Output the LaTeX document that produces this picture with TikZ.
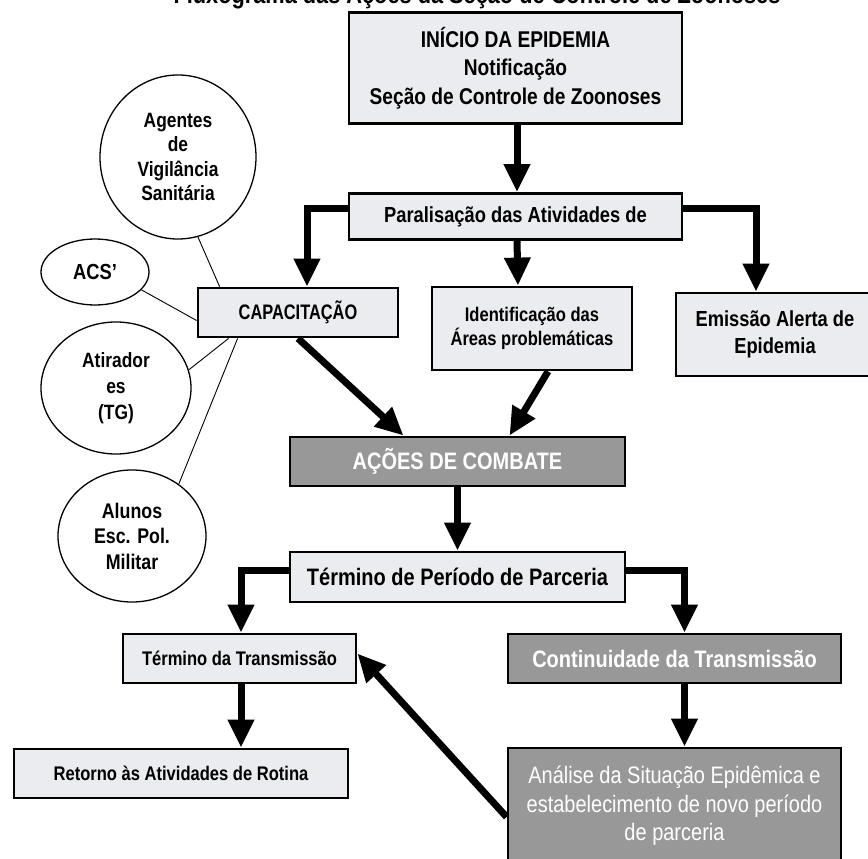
\documentclass[tikz,border=0pt]{standalone}
\usepackage{fontspec}
\setmainfont{Liberation Sans}[FakeStretch=0.84]
\newfontfamily\capfont{Liberation Sans}[FakeStretch=0.78]
\usetikzlibrary{arrows.meta,shapes.geometric,calc}
\definecolor{boxlight}{RGB}{235,236,239}
\definecolor{boxdark}{RGB}{152,152,152}
\newcommand{\fsz}[2]{\fontsize{#1}{#2}\selectfont}
\begin{document}
\begin{tikzpicture}[x=1pt,y=-1pt,
  lbox/.style={draw=black, line width=2.8pt, fill=boxlight, align=center, inner sep=0pt},
  dbox/.style={lbox, fill=boxdark, text=white},
  circ/.style={draw=black, line width=1.3pt, fill=white, ellipse, inner sep=0pt, align=center, font=\bfseries\fsz{20.7}{24.5}},
  arr/.style={line width=7pt, line join=miter, -{Triangle[length=28pt,width=25pt]}},
  thinl/.style={line width=0.9pt}]
\useasboundingbox (0,0) rectangle (868,859);
\clip (0,0) rectangle (868,859);

\node[anchor=base, font=\bfseries\fsz{25.9}{30}] (title) at (477,4) {Fluxograma das Ações da Seção de Controle de Zoonoses};

% boxes
\node[lbox, minimum width=333pt, minimum height=111pt, font=\bfseries\fsz{22.8}{28.5}] (top) at (515.5,68) {INÍCIO DA EPIDEMIA\\Notificação\\Seção de Controle de Zoonoses};
\node[lbox, minimum width=333pt, minimum height=46pt, font=\bfseries\fsz{21.8}{26}] (para) at (515.5,216.5) {Paralisação das Atividades de};
\node[lbox, minimum width=200pt, minimum height=49pt, font=\capfont\bfseries\fsz{21}{24}] (cap) at (298,312.5) {CAPACITAÇÃO};
\node[lbox, minimum width=200pt, minimum height=83pt, font=\bfseries\fsz{19.7}{24}] (ident) at (532,328.5) {Identificação das\\Áreas problemáticas};
\node[lbox, minimum width=198pt, minimum height=83pt, font=\bfseries\fsz{21.8}{27}] (emis) at (775,334.5) {Emissão Alerta de\\Epidemia};
\node[dbox, minimum width=335pt, minimum height=49pt, font=\bfseries\fsz{23.8}{28}] (acoes) at (457.5,461.5) {AÇÕES DE COMBATE};
\node[lbox, minimum width=335pt, minimum height=50pt, font=\bfseries\fsz{23.8}{28}] (term) at (457.5,577) {Término de Período de Parceria};
\node[lbox, minimum width=233pt, minimum height=49pt, font=\bfseries\fsz{19.7}{24}] (ttrans) at (239.5,658.5) {Término da Transmissão};
\node[dbox, minimum width=333pt, minimum height=49pt, font=\bfseries\fsz{23.8}{28}] (cont) at (674.5,658.5) {Continuidade da Transmissão};
\node[lbox, minimum width=334pt, minimum height=49pt, font=\bfseries\fsz{19.7}{24}] (ret) at (181,773.5) {Retorno às Atividades de Rotina};
\node[dbox, minimum width=333pt, minimum height=116pt, font=\fsz{23.8}{28.5}] (anal) at (674.5,806) {Análise da Situação Epidêmica e\\estabelecimento de novo período\\de parceria};

% circles
\node[circ, minimum width=156pt, minimum height=164pt] (ag) at (178,157) {Agentes\\de\\Vigilância\\Sanitária};
\node[circ, minimum width=108pt, minimum height=66pt, font=\bfseries\fsz{21.8}{24}] (acs) at (95,272) {ACS'};
\node[circ, minimum width=150pt, minimum height=132pt, font=\bfseries\fsz{20.7}{26}] (atir) at (116,388) {Atirador\\es\\(TG)};
\node[circ, minimum width=148pt, minimum height=132pt, font=\bfseries\fsz{21.2}{25.5}] (alu) at (132,536) {Alunos\\Esc. Pol.\\Militar};

% thin connectors
\draw[thinl] (ag.-76) -- ($(cap.north west)+(23,0)$);
\draw[thinl] (acs.-21) -- ([yshift=-8pt]cap.west);
\draw[thinl] (atir.14) -- ($(cap.south west)+(32,0)$);
\draw[thinl] (alu.48) -- ($(cap.south west)+(41,0)$);

% thick arrows
\draw[arr] ([xshift=1.5pt]top.south) -- ([xshift=1.5pt]para.north);
\draw[arr] ([yshift=8pt]para.west) -| ([xshift=9pt]cap.north);
\draw[arr] ([yshift=8pt]para.east) -| ([xshift=-19pt]emis.north);
\draw[arr] ([xshift=1.5pt]para.south) -- ([xshift=-14pt]ident.north);
\draw[arr] (cap.south) -- ([xshift=-54pt]acoes.north);
\draw[arr] ([xshift=16pt]ident.south) -- ([xshift=52pt]acoes.north);
\draw[arr] (acoes.south) -- (term.north);
\draw[arr] ([yshift=7pt]term.west) -| ([xshift=1.5pt]ttrans.north);
\draw[arr] ([yshift=7pt]term.east) -| ([xshift=10pt]cont.north);
\draw[arr] ([xshift=1.5pt]ttrans.south) -- ([xshift=1.5pt]ttrans.south |- ret.north);
\draw[arr] ([xshift=10pt]cont.south) -- ([xshift=10pt]anal.north);
\draw[arr] ([yshift=-11pt]anal.west) -- ([yshift=5pt]ttrans.east);
\end{tikzpicture}
\end{document}
